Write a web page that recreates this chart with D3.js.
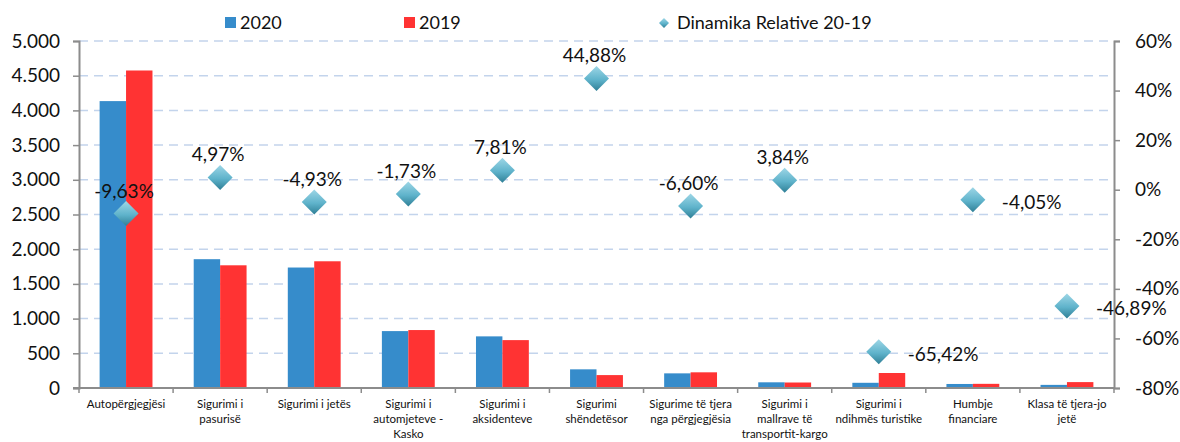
<!DOCTYPE html>
<html>
<head>
<meta charset="utf-8">
<script src="https://cdn.jsdelivr.net/npm/d3@7"></script>
<style>
  body { margin: 0; background: #fff; }
  text { font-family: Lato, "Liberation Sans", Arial, sans-serif; fill: #111; }
</style>
</head>
<body>
<script>
// categories, one entry per line of the tick label
const categories = [
  ["Autopërgjegjësi"],
  ["Sigurimi i", "pasurisë"],
  ["Sigurimi i jetës"],
  ["Sigurimi i", "automjeteve  -", "Kasko"],
  ["Sigurimi i", "aksidenteve"],
  ["Sigurimi", "shëndetësor"],
  ["Sigurime të tjera", "nga përgjegjësia"],
  ["Sigurimi i", "mallrave të", "transportit-kargo"],
  ["Sigurimi i", "ndihmës turistike"],
  ["Humbje", "financiare"],
  ["Klasa të tjera-jo", "jetë"]
];
const values2020 = [4134, 1856, 1736, 820, 744, 269, 211, 82, 75, 58, 45];
const values2019 = [4575, 1768, 1826, 835, 690, 186, 226, 79, 216, 60, 85];
const dinamika = [-9.63, 4.97, -4.93, -1.73, 7.81, 44.88, -6.60, 3.84, -65.42, -4.05, -46.89];
const leftTicks = [0, 500, 1000, 1500, 2000, 2500, 3000, 3500, 4000, 4500, 5000];
const rightTicks = [-80, -60, -40, -20, 0, 20, 40, 60];
// label placement: "top" above the marker, "right" beside it
const labelSide = ["top", "top", "top", "top", "top", "top", "top", "top", "right", "right", "right"];

const W = 1180, H = 442;
const m = { left: 79, right: 66, top: 41, bottom: 54 };

const svg = d3.select("body").append("svg")
    .attr("width", W)
    .attr("height", H);

const fmtLeft = d => d3.format(",")(d).replace(/,/g, ".");
const fmtPct = d => d.toFixed(2).replace(".", ",") + "%";

const x = d3.scaleBand()
    .domain(d3.range(categories.length))
    .range([m.left, W - m.right])
    .paddingInner(0)
    .paddingOuter(0);

const inner = d3.scaleBand()
    .domain(["2020", "2019"])
    .range([0, x.bandwidth()])
    .paddingInner(0)
    .paddingOuter(0.78);

const yL = d3.scaleLinear().domain([0, 5000]).range([H - m.bottom, m.top]);
const yR = d3.scaleLinear().domain([-80, 60]).range([H - m.bottom, m.top]);

// gradient for the diamonds
const defs = svg.append("defs");
const grad = defs.append("linearGradient")
    .attr("id", "dia").attr("x1", 0).attr("y1", 0).attr("x2", 0).attr("y2", 1);
grad.append("stop").attr("offset", "0%").attr("stop-color", "#9dd6e6");
grad.append("stop").attr("offset", "55%").attr("stop-color", "#5fb3cb");
grad.append("stop").attr("offset", "100%").attr("stop-color", "#2f7f96");

// gridlines
svg.append("g")
    .selectAll("line")
    .data(leftTicks.filter(d => d > 0))
    .enter()
    .append("line")
    .attr("x1", m.left)
    .attr("x2", W - m.right)
    .attr("y1", d => yL(d))
    .attr("y2", d => yL(d))
    .attr("stroke", "#c3d4ec")
    .attr("stroke-width", 1.5)
    .attr("stroke-dasharray", "9,6");

// bars
const groups = svg.append("g")
    .selectAll("g")
    .data(categories.map((c, i) => i))
    .enter()
    .append("g")
    .attr("transform", i => `translate(${x(i)},0)`);

groups.append("rect")
    .attr("x", inner("2020"))
    .attr("width", inner.bandwidth())
    .attr("y", i => yL(values2020[i]))
    .attr("height", i => yL(0) - yL(values2020[i]))
    .attr("fill", "#368ccb");

groups.append("rect")
    .attr("x", inner("2019"))
    .attr("width", inner.bandwidth())
    .attr("y", i => yL(values2019[i]))
    .attr("height", i => yL(0) - yL(values2019[i]))
    .attr("fill", "#ff3333");

// axes
const axisColor = "#8c8c8c";
const leftAxis = svg.append("g")
    .attr("transform", `translate(${m.left},0)`)
    .call(d3.axisLeft(yL).tickValues(leftTicks).tickFormat(fmtLeft).tickSize(6).tickPadding(13));

const rightAxis = svg.append("g")
    .attr("transform", `translate(${W - m.right},0)`)
    .call(d3.axisRight(yR).tickValues(rightTicks).tickFormat(d => d + "%").tickSize(6).tickPadding(15));

[leftAxis, rightAxis].forEach(a => {
    a.select(".domain").attr("stroke", axisColor).attr("stroke-width", 2);
    a.selectAll(".tick line").attr("stroke", axisColor).attr("stroke-width", 1.5);
    a.selectAll(".tick text").attr("font-size", 19).attr("fill", "#111")
        .style("font-family", "Lato, 'Liberation Sans', Arial, sans-serif");
});

// bottom axis line and ticks between categories
const bottom = svg.append("g");
bottom.append("line")
    .attr("x1", m.left - 6)
    .attr("x2", W - m.right)
    .attr("y1", yL(0))
    .attr("y2", yL(0))
    .attr("stroke", axisColor)
    .attr("stroke-width", 2);
bottom.selectAll("line.tk")
    .data(d3.range(categories.length + 1))
    .enter()
    .append("line")
    .attr("class", "tk")
    .attr("x1", i => m.left + i * x.step())
    .attr("x2", i => m.left + i * x.step())
    .attr("y1", yL(0))
    .attr("y2", yL(0) + 5)
    .attr("stroke", axisColor)
    .attr("stroke-width", 1.5);

// category labels
const catLabels = bottom.selectAll("text.cat")
    .data(categories)
    .enter()
    .append("text")
    .attr("class", "cat")
    .attr("text-anchor", "middle")
    .attr("font-size", 11.5)
    .attr("x", (c, i) => x(i) + x.bandwidth() / 2)
    .attr("y", yL(0) + 20);
catLabels.selectAll("tspan")
    .data(c => c)
    .enter()
    .append("tspan")
    .attr("x", function () { return d3.select(this.parentNode).attr("x"); })
    .attr("dy", (d, j) => j === 0 ? 0 : 15)
    .text(d => d);

// diamonds
const ds = 12.5;
svg.append("g")
    .selectAll("path")
    .data(dinamika)
    .enter()
    .append("path")
    .attr("transform", (d, i) => `translate(${x(i) + x.bandwidth() / 2},${yR(d)})`)
    .attr("d", `M0,${-ds}L${ds},0L0,${ds}L${-ds},0Z`)
    .attr("fill", "url(#dia)");

// diamond labels
svg.append("g")
    .selectAll("text")
    .data(dinamika)
    .enter()
    .append("text")
    .attr("font-size", 19)
    .attr("text-anchor", (d, i) => labelSide[i] === "top" ? "middle" : "start")
    .attr("x", (d, i) => x(i) + x.bandwidth() / 2 + (labelSide[i] === "top" ? -2 : 29))
    .attr("y", (d, i) => yR(d) + (labelSide[i] === "top" ? -16 : 9))
    .text(d => fmtPct(d));

// legend
const legend = svg.append("g").attr("font-size", 18);
legend.append("rect").attr("x", 225).attr("y", 17).attr("width", 11).attr("height", 11).attr("fill", "#368ccb");
legend.append("text").attr("x", 240).attr("y", 29).text("2020");
legend.append("rect").attr("x", 404).attr("y", 17).attr("width", 11).attr("height", 11).attr("fill", "#ff3333");
legend.append("text").attr("x", 419).attr("y", 29).text("2019");
legend.append("path")
    .attr("transform", "translate(664,23)")
    .attr("d", "M0,-5L5,0L0,5L-5,0Z")
    .attr("fill", "url(#dia)");
legend.append("text").attr("x", 677).attr("y", 29).text("Dinamika Relative 20-19");
</script>
</body>
</html>
